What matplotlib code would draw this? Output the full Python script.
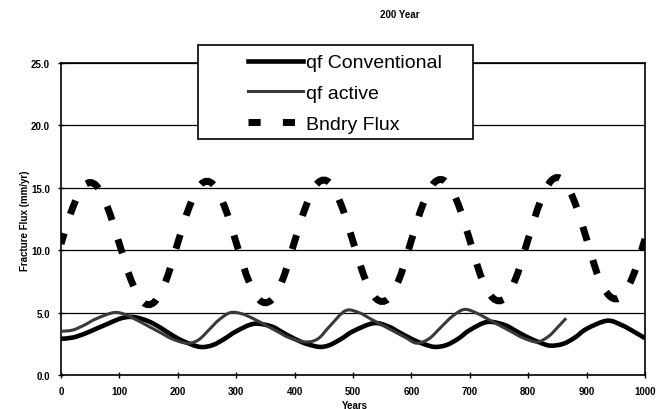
import matplotlib
matplotlib.use('Agg')
import matplotlib.pyplot as plt
from matplotlib.patches import Rectangle, PathPatch
from matplotlib.path import Path

plt.rc('font', family='Liberation Sans')

# boundary flux, read every 20 years
bndry_years = list(range(0, 1001, 20))
bndry_flux = [10.5, 13.4, 15.2, 15.2, 13.4, 10.5, 7.6, 5.85, 5.85, 7.6,
              10.6, 13.5, 15.3, 15.3, 13.5, 10.6, 7.7, 6.0, 6.0, 7.7,
              10.7, 13.6, 15.4, 15.4, 13.6, 10.7, 7.8, 6.1, 6.1, 7.8,
              10.8, 13.7, 15.45, 15.45, 13.7, 10.8, 7.8, 6.15, 6.15, 7.9,
              10.9, 13.8, 15.6, 15.6, 13.8, 10.9, 7.9, 6.3, 6.3, 8.0,
              10.9]

# qf conventional
conv_years = [0, 20, 40, 60, 80, 100, 115, 130, 150, 170, 190, 210, 238, 260, 280,
              300, 330, 360, 380, 400, 420, 443, 460, 480, 500, 535, 560, 580, 600,
              620, 640, 660, 680, 700, 730, 760, 780, 800, 820, 838, 860, 880, 900,
              935, 960, 980, 1000]
conv_flux = [2.9, 3.0, 3.3, 3.7, 4.1, 4.5, 4.65, 4.6, 4.3, 3.8, 3.2, 2.7, 2.25, 2.4, 2.9,
             3.5, 4.1, 3.9, 3.4, 2.9, 2.5, 2.25, 2.4, 2.9, 3.5, 4.15, 3.9, 3.4, 2.9,
             2.5, 2.25, 2.4, 2.9, 3.6, 4.25, 4.0, 3.5, 3.0, 2.6, 2.35, 2.5, 3.0, 3.7,
             4.35, 4.0, 3.5, 2.95]

# qf active
act_years = [0, 20, 40, 60, 90, 110, 130, 150, 170, 190, 215, 235, 255, 270, 290,
             310, 330, 350, 370, 390, 418, 440, 460, 487, 510, 530, 550, 570, 590,
             609, 630, 650, 670, 690, 710, 730, 750, 770, 790, 815, 835, 850, 865]
act_flux = [3.5, 3.6, 4.0, 4.5, 5.0, 4.85, 4.4, 3.9, 3.4, 2.9, 2.55, 2.8, 3.7, 4.4, 5.0,
            4.9, 4.5, 4.0, 3.5, 3.0, 2.65, 2.9, 3.9, 5.15, 5.0, 4.5, 4.0, 3.5, 3.0,
            2.55, 2.9, 3.8, 4.7, 5.25, 5.0, 4.5, 4.0, 3.5, 3.0, 2.65, 3.1, 3.8, 4.55]


def smooth_path(xs, ys):
    # excel style smoothed line: catmull-rom nodes as cubic bezier segments
    pts = list(zip(xs, ys))
    verts = [pts[0]]
    codes = [Path.MOVETO]
    n = len(pts)
    for i in range(n - 1):
        p0 = pts[max(i - 1, 0)]
        p1 = pts[i]
        p2 = pts[i + 1]
        p3 = pts[min(i + 2, n - 1)]
        c1 = (p1[0] + (p2[0] - p0[0]) / 6, p1[1] + (p2[1] - p0[1]) / 6)
        c2 = (p2[0] - (p3[0] - p1[0]) / 6, p2[1] - (p3[1] - p1[1]) / 6)
        verts += [c1, c2, p2]
        codes += [Path.CURVE4] * 3
    return Path(verts, codes)


fig = plt.figure(figsize=(6.6, 4.1), dpi=100)
ax = fig.add_axes([61/660, 1-376/410, (645-61)/660, (376-64)/410])

ax.add_patch(PathPatch(smooth_path(conv_years, conv_flux), fill=False, edgecolor='black',
                       linewidth=3.3, zorder=3))
ax.add_patch(PathPatch(smooth_path(act_years, act_flux), fill=False, edgecolor='#3a3a3a',
                       linewidth=2.2, zorder=4))
ax.add_patch(PathPatch(smooth_path(bndry_years, bndry_flux), fill=False, edgecolor='black',
                       linewidth=5, linestyle=(0.5, (2.1, 2.9)), capstyle='butt', zorder=3))

# legend proxies
l1, = ax.plot([], [], color='black', linewidth=3.3, label='qf Conventional')
l2, = ax.plot([], [], color='#3a3a3a', linewidth=2.2, label='qf active')
l3, = ax.plot([], [], color='black', linewidth=5, dashes=(1.75, 3.2), dash_capstyle='butt',
              label='Bndry Flux')

ax.set_xlim(0, 1000)
ax.set_ylim(0, 25)
ax.set_xticks(range(0, 1001, 100))
ax.set_yticks([0, 5, 10, 15, 20, 25])
ax.set_yticklabels(['%.1f' % v for v in [0, 5, 10, 15, 20, 25]])
ax.grid(axis='y', color='black', linewidth=0.9)
ax.set_axisbelow(True)
for s in ax.spines.values():
    s.set_linewidth(1.2)
ax.tick_params(direction='inout', length=4, width=1, pad=6)
for lab in ax.get_xticklabels() + ax.get_yticklabels():
    lab.set_fontsize(7)
    lab.set_fontweight('bold')

fig.text(25/660, 1-221/410, 'Fracture Flux (mm/yr)', rotation=90, ha='center', va='center',
         fontsize=7, fontweight='bold')
fig.text(355/660, 1-406/410, 'Years', ha='center', va='center', fontsize=7, fontweight='bold')
fig.text(400/660, 1-15/410, '200 Year', ha='center', va='center', fontsize=7, fontweight='bold')

box = Rectangle((198/660, 1-140/410), (473-198)/660, (140-46)/410, transform=fig.transFigure,
                facecolor='white', edgecolor='black', linewidth=1.2, clip_on=False, zorder=5)
ax.add_patch(box)
leg = ax.legend(handles=[l1, l2, l3], loc='upper left', bbox_to_anchor=(242/660, 1-49/410),
                bbox_transform=fig.transFigure, frameon=False, fontsize=14, borderaxespad=0,
                handlelength=2.85, handletextpad=0.15, labelspacing=0.68, borderpad=0.3)
leg.set_zorder(6)

plt.savefig('out.png', dpi=100)
